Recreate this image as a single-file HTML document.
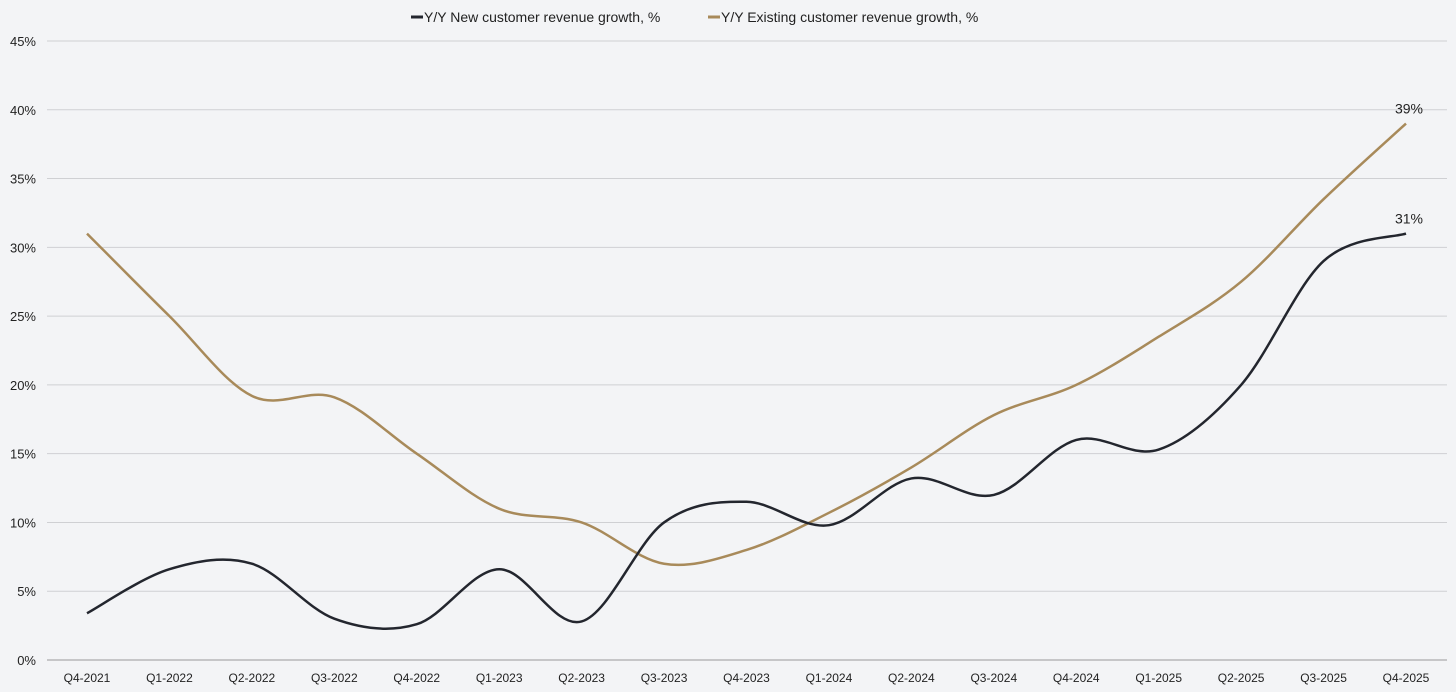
<!DOCTYPE html>
<html><head><meta charset="utf-8"><style>
body{margin:0;background:#f3f4f6;font-family:"Liberation Sans",sans-serif;}
svg{display:block}
</style></head><body>
<svg id="chart" width="1456" height="692" xmlns="http://www.w3.org/2000/svg">
<rect width="1456" height="692" fill="#f3f4f6"/>
<g id="grid"></g><g id="ylab"></g><g id="xlab"></g><g id="lines"></g>
<g>
<g><line x1="411" y1="17" x2="423" y2="17" stroke="#23262e" stroke-width="3"/><text x="424" y="22" font-size="14" fill="#222">Y/Y New customer revenue growth, %</text></g>
<g><line x1="708" y1="17" x2="720" y2="17" stroke="#a88a5a" stroke-width="3"/><text x="721" y="22" font-size="14" fill="#222">Y/Y Existing customer revenue growth, %</text></g>
</g>
</svg>
<script>
const categories=["Q4-2021","Q1-2022","Q2-2022","Q3-2022","Q4-2022","Q1-2023","Q2-2023","Q3-2023","Q4-2023","Q1-2024","Q2-2024","Q3-2024","Q4-2024","Q1-2025","Q2-2025","Q3-2025","Q4-2025"];
const newCustomer=[3.4,6.6,7.0,3.0,2.6,6.6,2.8,10,11.5,9.8,13.2,12,16,15.3,20,29,31];
const existingCustomer=[31,25,19.2,19.1,15,11,10,7,8,10.7,14,17.8,20,23.5,27.5,33.5,39];
const yTicks=[0,5,10,15,20,25,30,35,40,45];
const NS="http://www.w3.org/2000/svg";
const x=i=>87+i*(1406-87)/(categories.length-1);
const y=v=>660-v*(660-41)/45;
function mk(tag,attrs,parent){const e=document.createElementNS(NS,tag);for(const k in attrs)e.setAttribute(k,attrs[k]);parent.appendChild(e);return e;}
const grid=document.getElementById('grid'),ylab=document.getElementById('ylab'),xlab=document.getElementById('xlab'),lines=document.getElementById('lines');
yTicks.forEach(t=>{
 const l=mk('line',{x1:47,x2:1447,y1:y(t),y2:y(t),stroke:t===0?'#999':'#cfd0d3','stroke-width':1},grid);
 
 
 const tx=mk('text',{x:36,y:y(t)+5,'text-anchor':'end','font-size':13,fill:'#222'},ylab);
 tx.textContent=t+'%';
 
 
});
categories.forEach((c,i)=>{
 const tx=mk('text',{x:x(i),y:682,'text-anchor':'middle','font-size':12,fill:'#222'},xlab);
 tx.textContent=c;
 
 
});
function path(vals){
 const p=vals.map((v,i)=>[x(i),y(v)]);let d='M'+p[0][0]+','+p[0][1];
 for(let i=0;i<p.length-1;i++){const p0=p[i-1]||p[i],p1=p[i],p2=p[i+1],p3=p[i+2]||p2;const k=6;
  d+=` C${p1[0]+(p2[0]-p0[0])/k},${p1[1]+(p2[1]-p0[1])/k} ${p2[0]-(p3[0]-p1[0])/k},${p2[1]-(p3[1]-p1[1])/k} ${p2[0]},${p2[1]}`;}
 return d;}
const pe=mk('path',{d:path(existingCustomer),fill:'none',stroke:'#a88a5a','stroke-width':2.5},lines);


const pn=mk('path',{d:path(newCustomer),fill:'none',stroke:'#23262e','stroke-width':2.5},lines);


const n=categories.length-1;
[[existingCustomer,'existing-end-label'],[newCustomer,'new-end-label']].forEach(([arr,name])=>{
 const t=mk('text',{x:x(n)+3,y:y(arr[n])-10,'text-anchor':'middle','font-size':14,fill:'#222'},lines);
 t.textContent=Math.round(arr[n])+'%';
 
 
});
</script>
</body></html>
